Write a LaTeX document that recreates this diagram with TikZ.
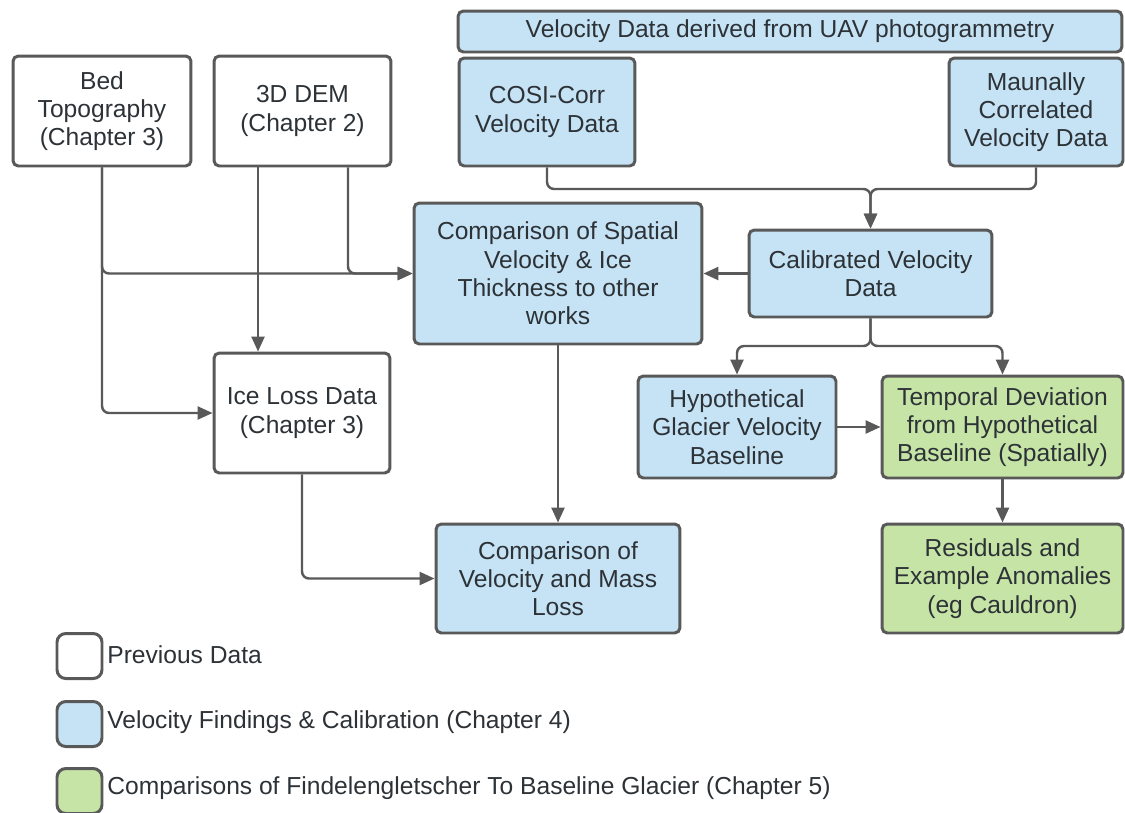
\documentclass[tikz,border=0pt]{standalone}
\usepackage{fontspec}
\setmainfont{Liberation Sans}
\definecolor{flowgrey}{RGB}{89, 89, 89}
\definecolor{flowtext}{RGB}{45, 50, 55}
\definecolor{velblue}{RGB}{197, 227, 245}
\definecolor{glacgreen}{RGB}{198, 228, 166}
\usetikzlibrary{arrows.meta}

\begin{document}
\begin{tikzpicture}[
                    x=0.02cm,
                    y=-0.02cm,
                    every node/.style={
                        font=\fontsize{14}{16.1}\selectfont,
                        text=flowtext
                    },
                    box/.style={
                        draw=flowgrey,
                        line width=1.7pt,
                        rounded corners=3pt,
                        align=center,
                        inner sep=0pt
                    },
                    prevbox/.style={box, fill=white},
                    velbox/.style={box, fill=velblue},
                    compbox/.style={box, fill=glacgreen},
                    keybox/.style={
                        minimum width=0.9cm,
                        minimum height=0.9cm,
                        rounded corners=5pt
                    },
                    keytext/.style={anchor=west, inner sep=0pt},
                    conn/.style={
                        draw=flowgrey,
                        line width=1.4pt,
                        rounded corners=4pt,
                        -{Triangle[length=0.3cm, width=0.26cm]}
                    }
                ]
                    \path[use as bounding box, fill=white] (0,0) rectangle (1125,812);

                    \node[prevbox, minimum width=3.56cm, minimum height=2.2cm] (bed) at (102,111) {Bed\\Topography\\(Chapter 3)};
                    \node[prevbox, minimum width=3.54cm, minimum height=2.2cm] (dem) at (302.5,111) {3D DEM\\(Chapter 2)};
                    \node[velbox, minimum width=13.28cm, minimum height=0.82cm] (uav) at (790,31.5) {Velocity Data derived from UAV photogrammetry};
                    \node[velbox, minimum width=3.52cm, minimum height=2.16cm] (cosi) at (547,112) {COSI-Corr\\Velocity Data};
                    \node[velbox, minimum width=3.48cm, minimum height=2.16cm] (manual) at (1036,112) {Maunally\\Correlated\\Velocity Data};

                    \node[velbox, minimum width=4.86cm, minimum height=1.74cm] (calib) at (870.5,273.5) {Calibrated Velocity\\Data};
                    \node[velbox, minimum width=5.76cm, minimum height=2.82cm] (spatial) at (558,273.5) {Comparison of Spatial\\Velocity \& Ice\\Thickness to other\\works};
                    \node[prevbox, minimum width=3.52cm, minimum height=2.4cm] (iceloss) at (302,413) {Ice Loss Data\\(Chapter 3)};
                    \node[velbox, minimum width=4.88cm, minimum height=2.18cm] (velmass) at (558,578.5) {Comparison of\\Velocity and Mass\\Loss};
                    \node[velbox, minimum width=3.96cm, minimum height=2.04cm] (hypo) at (737,427) {Hypothetical\\Glacier Velocity\\Baseline};
                    \node[compbox, minimum width=4.82cm, minimum height=2.04cm] (temporal) at (1002.5,427) {Temporal Deviation\\from Hypothetical\\Baseline (Spatially)};
                    \node[compbox, minimum width=4.82cm, minimum height=2.18cm] (resid) at (1002.5,578.5) {Residuals and\\Example Anomalies\\(eg Cauldron)};

                    \coordinate (merge) at (870.5,189);
                    \coordinate (split) at (870.5,346);

                    \draw[conn] (bed.south) |- (spatial.west);
                    \draw[conn] (bed.south) |- (iceloss.west);
                    \draw[conn] ([xshift=0.91cm]dem.south) |- (spatial.west);
                    \draw[conn] ([xshift=-0.89cm]dem.south) -- ([xshift=-0.89cm]dem.south |- iceloss.north);
                    \draw[conn] (cosi.south) |- (merge) -- (calib.north);
                    \draw[conn] (manual.south) |- (merge) -- (calib.north);
                    \draw[conn] (calib.west) -- (spatial.east);
                    \draw[conn] (spatial.south) -- (velmass.north);
                    \draw[conn] (iceloss.south) |- (velmass.west);
                    \draw[conn] (calib.south) -- (split) -| (hypo.north);
                    \draw[conn] (calib.south) -- (split) -| (temporal.north);
                    \draw[conn] (hypo.east) -- (temporal.west);
                    \draw[conn] (temporal.south) -- (resid.north);

                    \node[prevbox, keybox] (keyprev) at (79.5,656) {};
                    \node[velbox, keybox] (keyvel) at (79.5,724) {};
                    \node[compbox, keybox] (keycomp) at (79.5,791) {};
                    \node[keytext] (keyprevtext) at (107,655) {Previous Data};
                    \node[keytext] (keyveltext) at (107,722) {Velocity Findings \& Calibration (Chapter 4)};
                    \node[keytext] (keycomptext) at (107,788) {Comparisons of Findelengletscher To Baseline Glacier (Chapter 5)};
                \end{tikzpicture}
\end{document}
